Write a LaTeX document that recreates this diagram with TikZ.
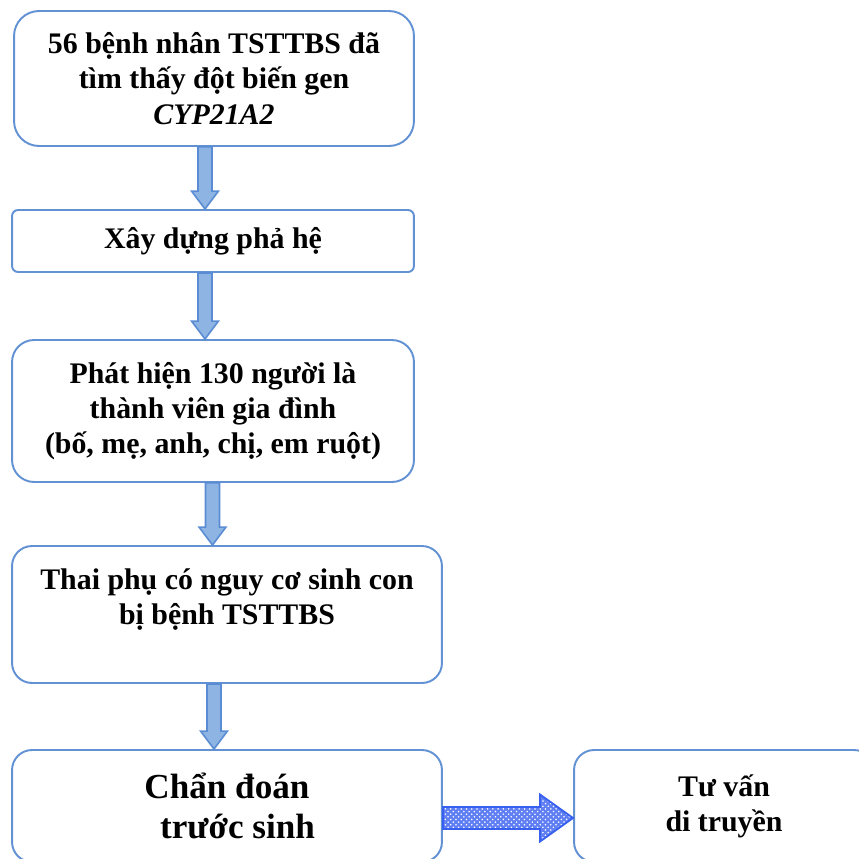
\documentclass[tikz,border=0pt]{standalone}
\usepackage{fontspec}
\setmainfont{Liberation Serif}
\usetikzlibrary{calc,patterns,positioning}
\definecolor{boxblue}{RGB}{98,145,212}
\definecolor{arrfill}{RGB}{141,180,226}
\definecolor{arrline}{RGB}{90,140,212}
\definecolor{hatchblue}{RGB}{55,95,240}
\tikzset{
  flowbox/.style = {draw=boxblue, line width=1.1pt, fill=white, align=center, inner sep=0pt, font=\fontsize{17}{20}\selectfont\bfseries},
  bigtext/.style = {font=\fontsize{20}{22.5}\selectfont\bfseries},
  downarr/.style = {draw=arrline, line width=0.9pt, fill=arrfill},
  sidearr/.style = {draw=hatchblue, line width=1pt, preaction={fill=hatchblue!80}, pattern=crosshatch dots, pattern color=white},
  blockdown/.style = {to path={let \p1=(\tikztostart), \p2=(\tikztotarget) in
    (\x1-0.14cm,\y1) -- (\x1+0.14cm,\y1) -- (\x1+0.14cm,\y2+0.36cm) -- (\x1+0.27cm,\y2+0.36cm)
    -- (\x1,\y2) -- (\x1-0.27cm,\y2+0.36cm) -- (\x1-0.14cm,\y2+0.36cm) -- cycle}},
  blockright/.style = {to path={let \p1=(\tikztostart), \p2=(\tikztotarget) in
    (\x1,\y1+0.22cm) -- (\x2-0.66cm,\y1+0.22cm) -- (\x2-0.66cm,\y1+0.47cm) -- (\x2,\y1)
    -- (\x2-0.66cm,\y1-0.47cm) -- (\x2-0.66cm,\y1-0.22cm) -- (\x1,\y1-0.22cm) -- cycle}}
}

\begin{document}
\begin{tikzpicture}[x=0.02cm,y=-0.02cm]
  \useasboundingbox (0,0) rectangle (859,859);
  \clip (0,0) rectangle (859,859);

  % boxes
  \node[flowbox, minimum width=8cm, minimum height=2.7cm, rounded corners=0.5cm] (patients) at (214,78.5)
    {56 bệnh nhân TSTTBS đã\\ tìm thấy đột biến gen\\ \textit{CYP21A2}};
  \node[flowbox, minimum width=8.04cm, minimum height=1.24cm, rounded corners=0.12cm] (pedigree) at (213,241)
    {Xây dựng phả hệ};
  \node[flowbox, minimum width=8.04cm, minimum height=2.84cm, rounded corners=0.44cm] (family) at (213,411)
    {Phát hiện 130 người là\\ thành viên gia đình\\ (bố, mẹ, anh, chị, em ruột)};
  \node[flowbox, minimum width=8.6cm, minimum height=2.74cm, rounded corners=0.4cm] (pregnant) at (227,614.5)
    {Thai phụ có nguy cơ sinh con\\ bị bệnh TSTTBS\\ \mbox{}};
  \node[flowbox, bigtext, minimum width=8.6cm, minimum height=2.24cm, rounded corners=0.4cm] (prenatal) at (227,806)
    {Chẩn đoán\\ \hspace{0.6em}trước sinh};
  \node[flowbox, minimum width=6cm, minimum height=2.24cm, rounded corners=0.4cm] (counsel) at (724,806)
    {Tư vấn\\ di truyền};

  % arrows
  \coordinate (ax1) at (205,0);
  \coordinate (ax2) at (205,0);
  \coordinate (ax3) at (212.5,0);
  \coordinate (ax4) at (214,0);
  \coordinate (ay5) at (0,818);
  \draw[downarr] (patients.south -| ax1) to[blockdown] (pedigree.north -| ax1);
  \draw[downarr] (pedigree.south -| ax2) to[blockdown] (family.north -| ax2);
  \draw[downarr] (family.south -| ax3) to[blockdown] (pregnant.north -| ax3);
  \draw[downarr] (pregnant.south -| ax4) to[blockdown] (prenatal.north -| ax4);
  \draw[sidearr] (prenatal.east |- ay5) to[blockright] (counsel.west |- ay5);
\end{tikzpicture}
\end{document}
